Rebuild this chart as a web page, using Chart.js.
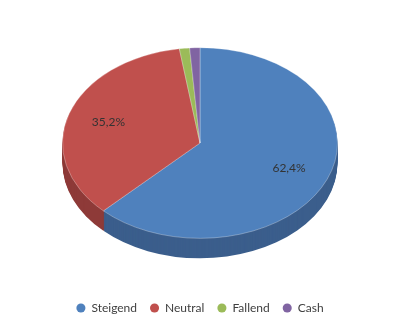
<!DOCTYPE html>
<html>
<head>
<meta charset="utf-8">
<script src="https://cdn.jsdelivr.net/npm/chart.js@4/dist/chart.umd.min.js"></script>
<style>
  html, body { margin: 0; padding: 0; background: #fff; }
  #wrap { width: 400px; height: 330px; }
</style>
</head>
<body>
<div id="wrap"><canvas id="pieChart" width="400" height="330"></canvas></div>
<script>
// Portfolio split (values in %)
const categories = ['Steigend', 'Neutral', 'Fallend', 'Cash'];
const shares = [62.4, 35.2, 1.2, 1.2];
const topColors = ['#4f81bd', '#c0504d', '#9bbb59', '#8064a2'];
const sideColors = ['#3b5e8c', '#8e3a38', '#728a41', '#5e4a78'];

// fake 3D: squash the pie vertically and stack darker layers below it
const TILT = 95 / 137;
const CENTER_Y = 143;
const DEPTH = 20;

function tiltAt(ctx, chart, shiftY) {
    const arc = chart.getDatasetMeta(0).data[0];
    ctx.translate(0, CENTER_Y + shiftY);
    ctx.scale(1, TILT);
    ctx.translate(0, -arc.y);
}

const tiltPlugin = {
    id: 'tilt3d',
    beforeDatasetsDraw(chart) {
        const ctx = chart.ctx;
        const arcs = chart.getDatasetMeta(0).data;
        for (let d = DEPTH; d >= 1; d--) {
            ctx.save();
            tiltAt(ctx, chart, d);
            arcs.forEach((a, i) => {
                ctx.beginPath();
                ctx.moveTo(a.x, a.y);
                ctx.arc(a.x, a.y, a.outerRadius, a.startAngle, a.endAngle);
                ctx.closePath();
                ctx.fillStyle = sideColors[i];
                ctx.fill();
            });
            ctx.restore();
        }
        ctx.save();
        tiltAt(ctx, chart, 0);
    },
    afterDatasetsDraw(chart) {
        const ctx = chart.ctx;
        ctx.restore();
        // percentage labels
        const arcs = chart.getDatasetMeta(0).data;
        ctx.save();
        ctx.font = '12px Lato, "Open Sans", sans-serif';
        ctx.fillStyle = '#333333';
        ctx.textAlign = 'center';
        ctx.textBaseline = 'middle';
        arcs.forEach((a, i) => {
            if (shares[i] < 5) return;
            const mid = (a.startAngle + a.endAngle) / 2;
            const px = a.x + Math.cos(mid) * a.outerRadius * 0.7;
            const py = CENTER_Y + Math.sin(mid) * a.outerRadius * 0.7 * TILT;
            ctx.fillText(shares[i].toFixed(1).replace('.', ',') + '%', px, py);
        });
        ctx.restore();
    }
};

const ctx = document.getElementById('pieChart').getContext('2d');
new Chart(ctx, {
    type: 'pie',
    data: {
        labels: categories,
        datasets: [{
            data: shares,
            backgroundColor: topColors,
            borderColor: 'rgba(255,255,255,0.35)',
            borderWidth: 1
        }]
    },
    options: {
        responsive: false,
        animation: false,
        layout: { padding: { left: 62, right: 62, top: 0, bottom: 6 } },
        plugins: {
            tooltip: { enabled: false },
            legend: {
                position: 'bottom',
                labels: {
                    usePointStyle: true,
                    pointStyle: 'circle',
                    boxWidth: 9,
                    boxHeight: 6.4,
                    padding: 13,
                    color: '#404040',
                    font: { family: 'Lato, "Open Sans", sans-serif', size: 12 },
                    generateLabels(chart) {
                        const items = Chart.overrides.pie.plugins.legend.labels.generateLabels(chart);
                        items.forEach(it => { it.lineWidth = 0; it.strokeStyle = 'transparent'; });
                        return items;
                    }
                }
            }
        }
    },
    plugins: [tiltPlugin]
});
</script>
</body>
</html>
